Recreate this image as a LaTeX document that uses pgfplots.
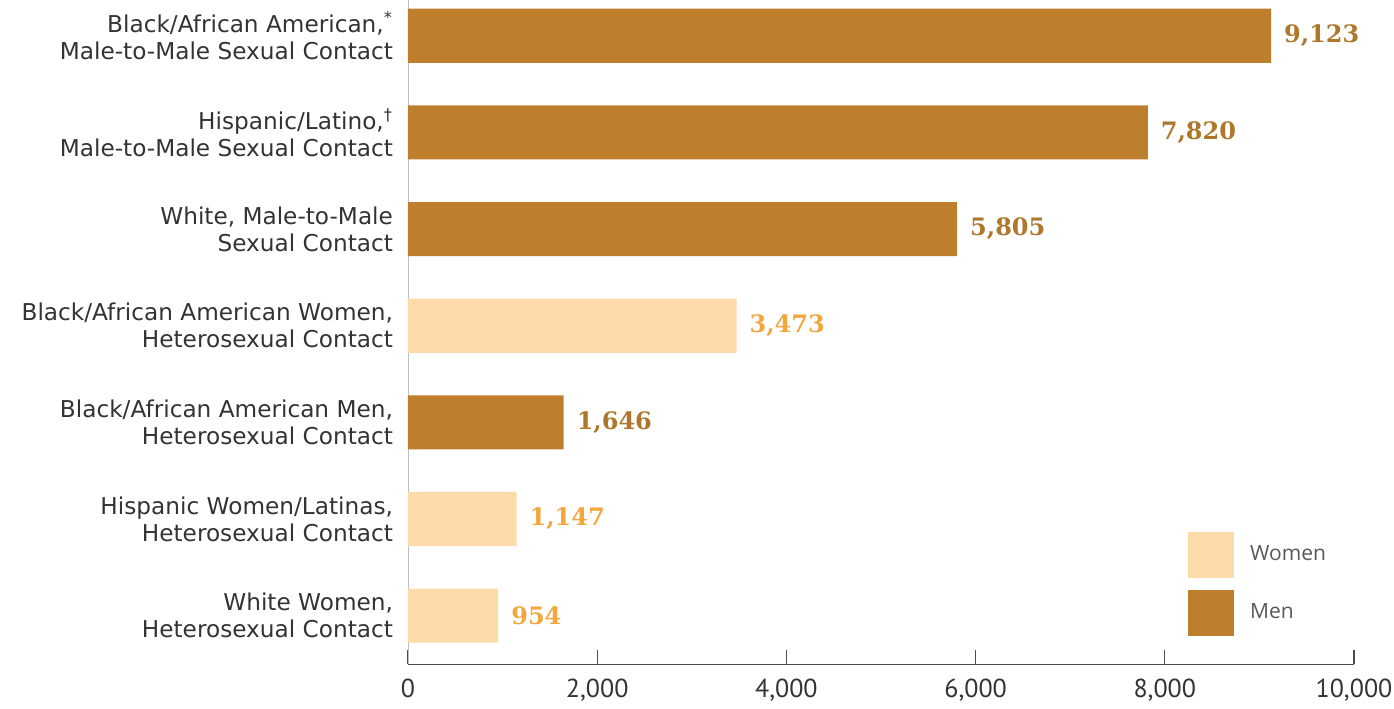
\documentclass[border=0pt]{standalone}
\usepackage{pgfplots}
\pgfplotsset{compat=1.18}
\usepackage{fontspec}
\setmainfont{DejaVu Sans}
\newfontfamily\valfont{DejaVu Serif}
\newfontfamily\tickfont{PT Sans}
\newfontfamily\legfont{Open Sans}
\definecolor{men}{HTML}{BE7F2C}
\definecolor{menlab}{HTML}{AE782C}
\definecolor{women}{HTML}{FDDAAA}
\definecolor{womenlab}{HTML}{F2A63C}
\definecolor{txt}{HTML}{333333}
\begin{document}
\begin{tikzpicture}
\path[use as bounding box] (0,0) rectangle (697pt,354pt);
\begin{axis}[
  at={(204pt,22pt)}, anchor=south west,
  scale only axis, width=473pt, height=332pt,
  xmin=0, xmax=10000, ymin=-0.5, ymax=6.37,
  clip=false,
  xbar, bar shift=0pt, bar width=0.56,
  axis x line*=bottom, axis y line*=left,
  x axis line style={draw=black!70, -},
  y axis line style={draw=black!25, -},
  xtick={0,2000,...,10000}, tick align=inside, major tick length=7pt,
  scaled x ticks=false,
  xtick style={draw=black!70, line width=0.6pt},
  ytick={0,...,6}, ytick style={draw=none},
  /pgf/number format/assume math mode=true,
  /pgf/number format/1000 sep={,},
  xticklabel style={font=\tickfont\fontsize{13}{13}\selectfont, text=txt, yshift=-4pt},
  yticklabels={{White Women,\\Heterosexual Contact},
               {Hispanic Women/Latinas,\\Heterosexual Contact},
               {Black/African American Men,\\Heterosexual Contact},
               {Black/African American Women,\\Heterosexual Contact},
               {White, Male-to-Male\\Sexual Contact},
               {Hispanic/Latino,\textsuperscript{\dag}\\Male-to-Male Sexual Contact},
               {Black/African American,\textsuperscript{*}\\Male-to-Male Sexual Contact}},
  yticklabel style={align=right, font=\fontsize{11.6}{13.5}\selectfont, text=txt, xshift=-4pt},
  point meta=x,
  nodes near coords={\pgfmathprintnumber[fixed,precision=0,1000 sep={,}]{\pgfplotspointmeta}},
  nodes near coords align=horizontal,
  every node near coord/.append style={font=\valfont\bfseries\fontsize{12}{12}\selectfont, anchor=west, xshift=3pt},
  legend style={at={(rel axis cs:0.818,0.206)}, anchor=north west, draw=none, fill=none,
    font=\legfont\fontsize{10.5}{10.5}\selectfont\color{black!65}, row sep=6pt,
    nodes={inner xsep=8pt}},
  legend cell align=left,
  legend image code/.code={\path[#1,draw=none] (0pt,-11.5pt) rectangle (23pt,11.5pt);},
]
\addplot[fill=women, draw=none, every node near coord/.append style={text=womenlab}]
  coordinates {(954,0) (1147,1) (3473,3)};
\addlegendentry{Women}
\addplot[fill=men, draw=none, every node near coord/.append style={text=menlab}]
  coordinates {(1646,2) (5805,4) (7820,5) (9123,6)};
\addlegendentry{Men}
\end{axis}
\end{tikzpicture}
\end{document}
